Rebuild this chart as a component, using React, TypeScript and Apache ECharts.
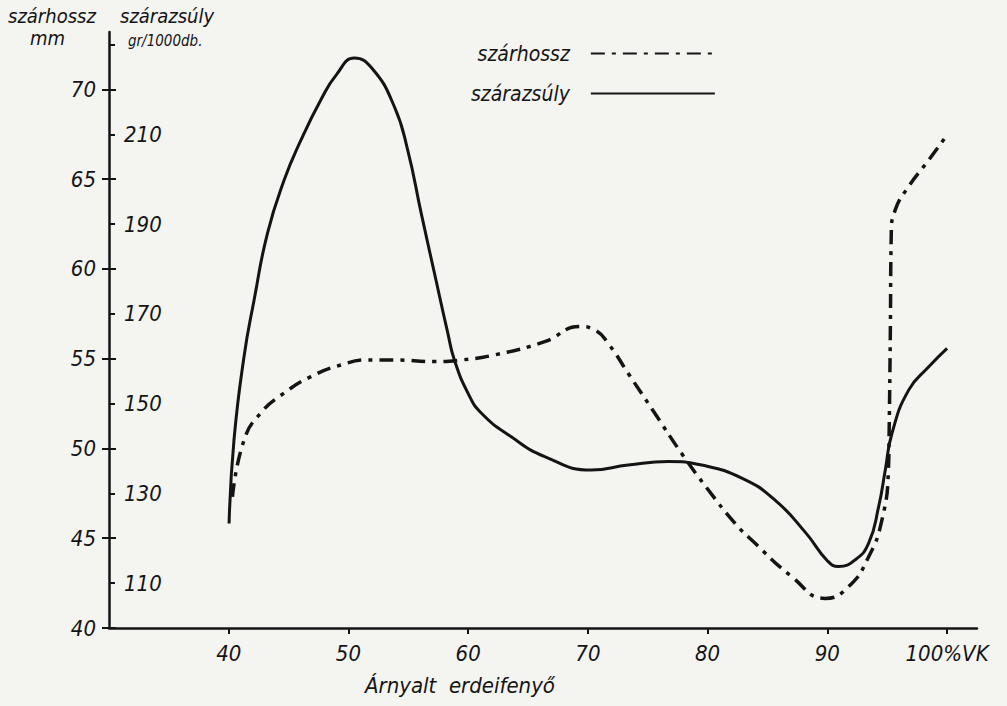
import React, { useEffect, useRef } from "react";
import * as echarts from "echarts";

// Axis ticks
const xTicks = [40, 50, 60, 70, 80, 90, 100];
const mmTicks = [40, 45, 50, 55, 60, 65, 70];
const weightTicks = [110, 130, 150, 170, 190, 210, 230];
const weightLabels = [110, 130, 150, 170, 190, 210];

// szárhossz (mm) – dash-dot curve
const szarhosszX = [40.31, 41.28, 42.68, 44.63, 46.86, 49.37, 51.61, 53.83, 57.18, 59.41, 62.2, 66.39, 69.31, 70.57, 71.69, 73.36, 75.59, 77.82, 80.06, 82.29, 83.68, 87.03, 89.82, 91.77, 93.45, 94.56, 95.1, 95.16, 95.26, 95.34, 95.67, 96.79, 98.47, 100];
const szarhosszY = [47.3, 50.47, 51.98, 53.09, 54.0, 54.65, 54.93, 54.93, 54.84, 54.93, 55.21, 55.95, 56.79, 56.6, 55.86, 54.19, 51.96, 49.73, 47.69, 45.83, 44.9, 42.86, 41.65, 42.3, 43.97, 46.02, 48.8, 50.85, 56.42, 62.0, 63.29, 64.59, 66.07, 67.46];

// szárazsúly (gr/1000 db) – solid curve
const szarazsulyX = [40.03, 40.44, 41.28, 42.12, 43.24, 44.63, 46.03, 47.7, 49.0, 50.49, 52.0, 53.83, 54.95, 56.07, 57.18, 58.3, 58.85, 59.97, 61.09, 63.6, 66.39, 70.29, 73.36, 76.71, 79.5, 82.85, 85.63, 88.2, 90.0, 90.94, 92.33, 93.45, 94.28, 94.84, 95.4, 96.79, 98.47, 100];
const szarazsulyY = [123.3, 141.9, 160.5, 173.1, 188.0, 199.8, 208.7, 217.7, 223.3, 227.0, 224.6, 216.2, 206.5, 192.5, 179.1, 165.7, 159.7, 152.4, 147.9, 142.6, 138.2, 135.2, 136.3, 137.1, 136.3, 133.4, 128.5, 121.2, 115.0, 113.7, 115.2, 118.9, 127.0, 135.2, 143.4, 153.0, 158.2, 162.3];

const FONT = '"Liberation Sans Narrow", "DejaVu Sans Condensed", "Liberation Sans", sans-serif';
const INK = "#141414";

export default function App() {
  const ref = useRef<HTMLDivElement>(null);
  useEffect(() => {
    if (!ref.current) return;
    const chart = echarts.init(ref.current, undefined, { renderer: "svg" });
    const labelStyle = { fontFamily: FONT, fontStyle: "italic" as const, fontSize: 22, color: INK };
    chart.setOption({
      animation: false,
      backgroundColor: "#f4f4f1",
      grid: { left: 109, right: 30, top: 32, bottom: 78 },
      legend: {
        orient: "vertical",
        left: 466,
        top: 38,
        align: "right",
        itemWidth: 124,
        itemHeight: 20,
        itemGap: 19,
        selectedMode: false,
        itemStyle: { opacity: 0 },
        textStyle: { fontFamily: FONT, fontStyle: "italic", fontSize: 21, color: INK, padding: [0, 16, 0, 0] },
        data: ["szárhossz", "szárazsúly"],
      },
      xAxis: {
        type: "value",
        min: 30,
        max: 102.5,
        axisLine: { lineStyle: { color: INK, width: 2.5 } },
        axisTick: { customValues: xTicks, length: 6, lineStyle: { color: INK, width: 2 } },
        axisLabel: {
          ...labelStyle,
          customValues: xTicks,
          margin: 14,
          formatter: (v: number) => (v === 100 ? "100%VK" : String(v)),
        },
        splitLine: { show: false },
      },
      yAxis: [
        {
          type: "value",
          position: "left",
          min: 40,
          max: 73.2,
          axisLine: { show: true, lineStyle: { color: INK, width: 2.5 } },
          axisTick: { show: true, customValues: mmTicks, length: 7, lineStyle: { color: INK, width: 2 } },
          axisLabel: { ...labelStyle, customValues: mmTicks, margin: 13 },
          splitLine: { show: false },
        },
        {
          type: "value",
          position: "left",
          min: 100,
          max: 232.8,
          axisLine: { show: false },
          axisTick: { show: true, inside: true, customValues: weightTicks, length: 6, lineStyle: { color: INK, width: 2 } },
          axisLabel: { ...labelStyle, inside: true, customValues: weightLabels, margin: 15 },
          splitLine: { show: false },
        },
        {
          type: "value",
          position: "left",
          min: 40,
          max: 73.2,
          axisLine: { show: false },
          axisTick: { show: true, inside: true, customValues: mmTicks, length: 7, lineStyle: { color: INK, width: 2 } },
          axisLabel: { show: false },
          splitLine: { show: false },
        },
      ],
      graphic: [
        { type: "text", left: 8, top: 6, style: { text: "szárhossz", font: `italic 20px ${FONT}`, fill: INK } },
        { type: "text", left: 30, top: 28, style: { text: "mm", font: `italic 20px ${FONT}`, fill: INK } },
        { type: "text", left: 120, top: 6, style: { text: "szárazsúly", font: `italic 20px ${FONT}`, fill: INK } },
        { type: "text", left: 128, top: 33, style: { text: "gr/1000db.", font: `italic 15px ${FONT}`, fill: INK } },
        { type: "text", left: 365, top: 674, style: { text: "Árnyalt  erdeifenyő", font: `italic 22px ${FONT}`, fill: INK } },
      ],
      series: [
        {
          name: "szárhossz",
          type: "line",
          yAxisIndex: 0,
          smooth: 0.5,
          symbol: "none",
          data: szarhosszX.map((x, i) => [x, szarhosszY[i]]),
          lineStyle: { color: INK, width: 3.5, type: [14, 7, 4, 7] },
          itemStyle: { color: INK },
        },
        {
          name: "szárazsúly",
          type: "line",
          yAxisIndex: 1,
          smooth: 0.5,
          symbol: "none",
          data: szarazsulyX.map((x, i) => [x, szarazsulyY[i]]),
          lineStyle: { color: INK, width: 3, type: "solid" },
          itemStyle: { color: INK },
        },
      ],
    });
    return () => chart.dispose();
  }, []);
  return <div ref={ref} style={{ position: "fixed", left: 0, top: 0, width: 1007, height: 706 }} />;
}
